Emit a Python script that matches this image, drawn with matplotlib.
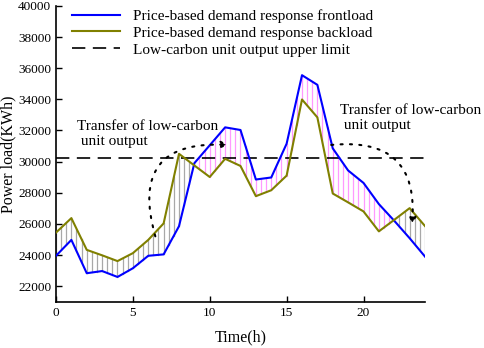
import numpy as np
import matplotlib
matplotlib.use("Agg")
import matplotlib.pyplot as plt

plt.rcParams['font.family'] = ['Liberation Serif', 'DejaVu Serif']

hours = list(range(25))
frontload = [23950, 24970, 22830, 22970, 22590, 23150, 23950, 24040, 25850,
             29900, 31050, 32200, 32030, 28850, 28980, 31150, 35550, 34930,
             30850, 29430, 28630, 27270, 26200, 25080, 23900]
backload = [25440, 26370, 24330, 23980, 23610, 24120, 24970, 26030, 30500,
            29750, 29010, 30180, 29720, 27780, 28160, 29100, 33990, 32840,
            27950, 27380, 26800, 25520, 26260, 27010, 25860]
upper_limit = 30200
hatch_step = 1 / 3

fig = plt.figure(figsize=(4.84, 3.48), dpi=100)
ax = fig.add_axes([0.1157, 0.133, 0.7624, 0.850])

# vertical hatching between the two curves
xs = np.arange(0, 24 + 1e-9, hatch_step)
f_i = np.interp(xs, hours, frontload)
b_i = np.interp(xs, hours, backload)
for x, f, b in zip(xs, f_i, b_i):
    col = '#ff99ff' if f > b else '#a8a8a8'
    ax.plot([x, x], [min(f, b), max(f, b)], color=col, lw=0.9, zorder=1)

ax.plot(hours, frontload, color='#0000ff', lw=1.5, zorder=3,
        label='Price-based demand response frontload')
ax.plot(hours, backload, color='#808000', lw=1.5, zorder=3,
        label='Price-based demand response backload')
ax.axhline(upper_limit, color='black', lw=1.2, ls=(0, (8, 4.5)), zorder=2,
           label='Low-carbon unit output upper limit')

ax.set_xlim(0, 24)
ax.set_ylim(21000, 40000)
ax.set_xticks([0, 5, 10, 15, 20])
ax.set_yticks(range(22000, 40001, 2000))
ax.tick_params(direction='in', labelsize=9.5, length=4, width=1)
ax.spines['top'].set_visible(False)
ax.spines['right'].set_visible(False)
ax.spines['left'].set_linewidth(1.2)
ax.spines['bottom'].set_linewidth(1.2)
ax.set_xlabel('Time(h)', fontsize=11.5, labelpad=8)
ax.set_ylabel('Power load(KWh)', fontsize=11.5, labelpad=1)

ax.legend(loc='upper left', bbox_to_anchor=(0.005, 1.035), frameon=False,
          fontsize=11, handlelength=3.2, handletextpad=0.8, labelspacing=0.2)

# annotations
ax.text(1.35, 31770, 'Transfer of low-carbon\n unit output', fontsize=11,
        va='center', ha='left', linespacing=1.15)
ax.text(18.5, 32800, 'Transfer of low-carbon\n unit output', fontsize=11,
        va='center', ha='left', linespacing=1.15)

ax.annotate('', xy=(11.2, 31070), xytext=(6.46, 25200),
            arrowprops=dict(arrowstyle='-|>', ls=(0, (1, 3.5)), lw=1.5,
                            color='black', connectionstyle='arc3,rad=-0.7',
                            shrinkA=0, shrinkB=0, mutation_scale=10))
ax.annotate('', xy=(23.16, 25970), xytext=(17.9, 31070),
            arrowprops=dict(arrowstyle='-|>', ls=(0, (1, 3.5)), lw=1.5,
                            color='black', connectionstyle='arc3,rad=-0.6',
                            shrinkA=0, shrinkB=0, mutation_scale=10))

fig.savefig('out.png', dpi=100)
